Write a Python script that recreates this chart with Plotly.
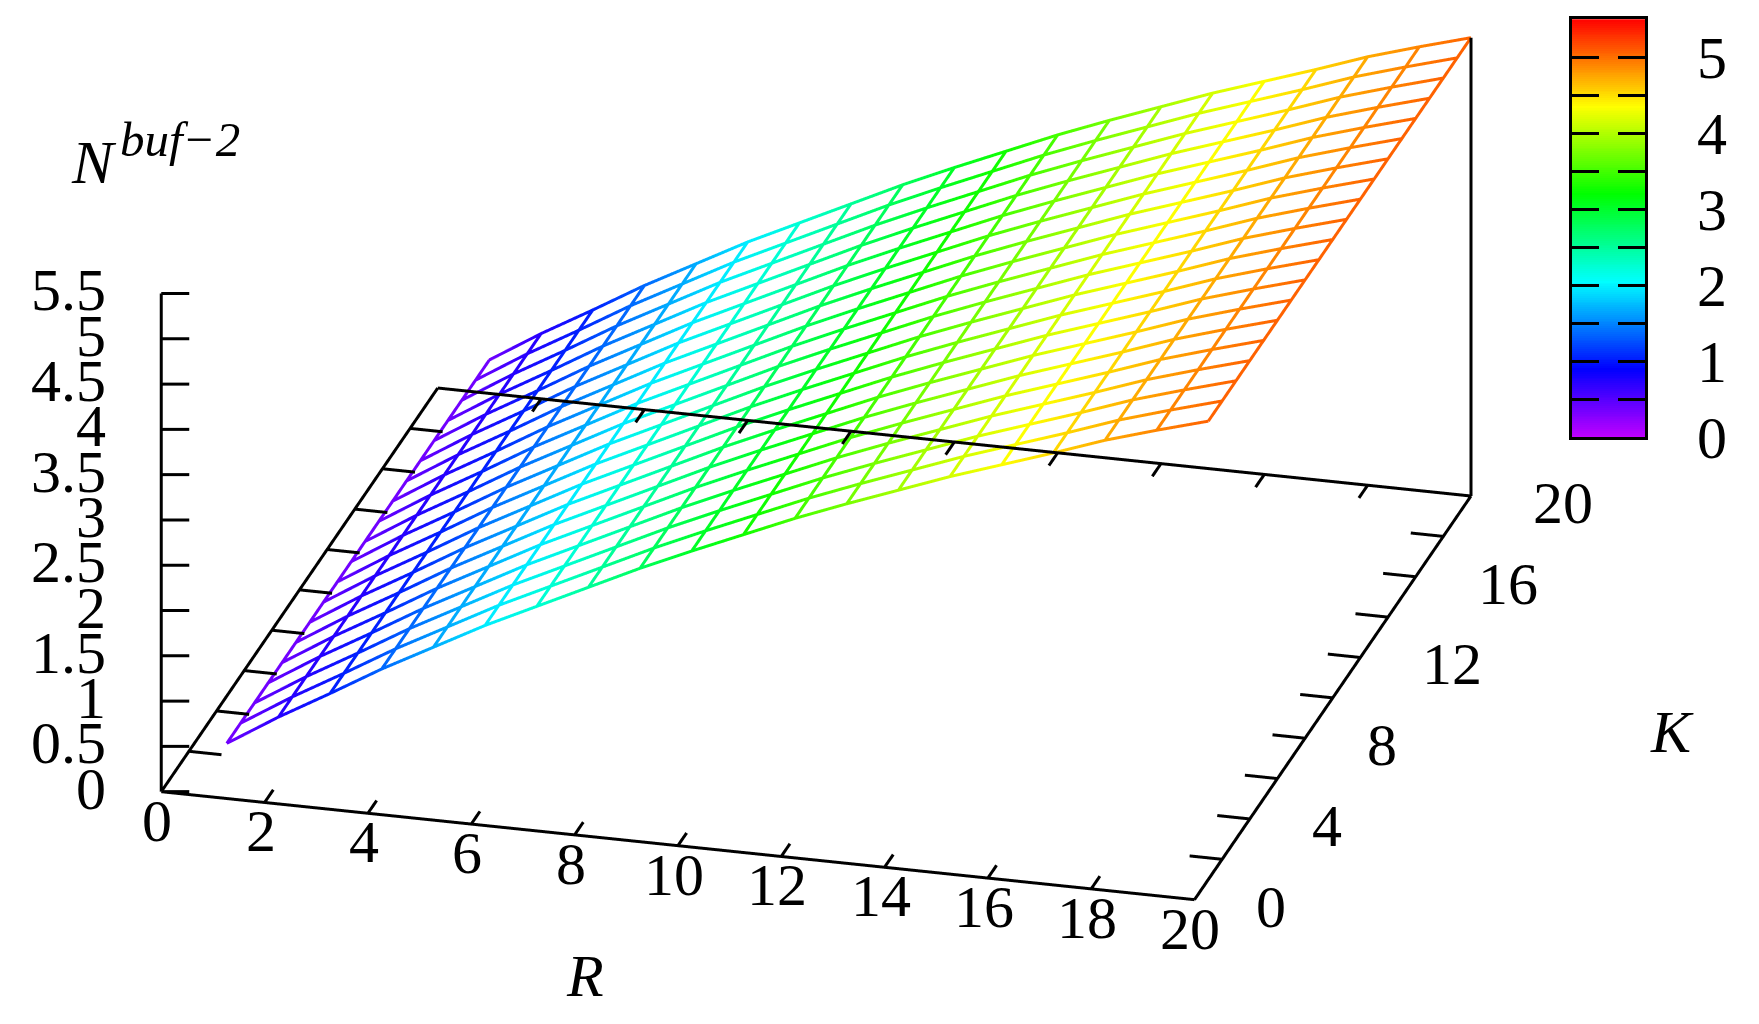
import numpy as np
import plotly.graph_objects as go

W, H = 1759, 1024
FONT = "Liberation Serif"

R_values = list(range(1, 21))
K_values = list(range(1, 21))
N_by_R = [0.37, 0.72, 1.04, 1.37, 1.67, 1.97, 2.24, 2.51, 2.78, 3.03,
          3.27, 3.51, 3.73, 3.94, 4.15, 4.34, 4.53, 4.73, 4.90, 5.06]
R_ticks = [0, 2, 4, 6, 8, 10, 12, 14, 16, 18, 20]
K_ticks = [0, 2, 4, 6, 8, 10, 12, 14, 16, 18, 20]
K_labels = [0, 4, 8, 12, 16, 20]
Z_ticks = [0, 0.5, 1, 1.5, 2, 2.5, 3, 3.5, 4, 4.5, 5, 5.5]
Z_labels = ["0", "0.5", "1", "1.5", "2", "2.5", "3", "3.5", "4", "4.5", "5", "5.5"]
bar_ticks = [0, 0.5, 1, 1.5, 2, 2.5, 3, 3.5, 4, 4.5, 5, 5.5]
bar_labels = ["0", "", "1", "", "2", "", "3", "", "4", "", "5", ""]

colorscale = [[0, "#c000ff"], [0.1636, "#0000ff"], [0.3727, "#00ffff"],
              [0.5818, "#00ff00"], [0.7909, "#ffff00"], [1, "#ff0000"]]
ZMAX = 5.5

fig = go.Figure()
line_w = 6

def wire(xs, ys, zs):
    fig.add_trace(go.Scatter3d(x=xs, y=ys, z=zs, mode="lines", scene="scene",
                               showlegend=False, hoverinfo="skip",
                               line=dict(color=zs, colorscale=colorscale, cmin=0, cmax=ZMAX,
                                         width=line_w, showscale=False)))

for k in K_values:
    wire(R_values, [k] * len(R_values), N_by_R)
for r, n in zip(R_values, N_by_R):
    wire([r] * len(K_values), K_values, [n] * len(K_values))

# frame and ticks, drawn in an overlaid scene so black stays on top of the wires
TK = 0.63
fx, fy, fz = [], [], []
def seg(a, b):
    fx.extend([a[0], b[0], None]); fy.extend([a[1], b[1], None]); fz.extend([a[2], b[2], None])

seg((0, 0, 0), (20, 0, 0)); seg((20, 0, 0), (20, 20, 0)); seg((0, 20, 0), (20, 20, 0))
seg((0, 0, 0), (0, 20, 0)); seg((0, 0, 0), (0, 0, 5.5)); seg((20, 20, 0), (20, 20, N_by_R[-1]))
for r in R_ticks:
    if r not in (0, 20):
        seg((r, 0, 0), (r, TK, 0))
    seg((r, 20, 0), (r, 20 - TK, 0))
for k in K_ticks:
    if k > 0:
        seg((0, k, 0), (TK, k, 0))
        seg((20, k, 0), (20 - TK, k, 0))
for z in Z_ticks:
    seg((0, 0, z), (0.506, 0.135, z))
fig.add_trace(go.Scatter3d(x=fx, y=fy, z=fz, mode="lines", scene="scene2", showlegend=False,
                           hoverinfo="skip", line=dict(color="black", width=6)))

# colour key
levels = np.linspace(0, ZMAX, 221)
fig.add_trace(go.Heatmap(z=[[v] for v in levels], y=levels, x=[0], xaxis="x", yaxis="y",
                         colorscale=colorscale, zmin=0, zmax=ZMAX, showscale=False, hoverinfo="skip"))

tf = dict(family=FONT, size=60, color="black")
ann3d = []
for r in R_ticks:
    ann3d.append(dict(x=r, y=0, z=0, text=str(r), showarrow=False, xanchor="center", yanchor="middle",
                      xshift=-4, yshift=-29, font=tf))
for k in K_labels:
    ann3d.append(dict(x=20, y=k, z=0, text=str(k), showarrow=False, xanchor="left", yanchor="middle",
                      xshift=60, yshift=-7, font=tf))
for z, t in zip(Z_ticks, Z_labels):
    ann3d.append(dict(x=0, y=0, z=z, text=t, showarrow=False, xanchor="right", yanchor="middle",
                      xshift=-53, yshift=3, font=tf))

# camera
EYE_DIST = 3.0
ASPECT = 2.089
R_PAD, Z_PAD = 1.0, 0.5   # the scene box is a little larger than the frame so edge lines are not clipped
d = np.array([0.2379, -0.8891, 0.3906])
S = 513.0
CENTER_PX = (63.5, -117.5)
r_vec = np.array([0.9659, 0.2584, 0.0]); u_vec = np.array([-0.101, 0.377, 0.9205])
c = (CENTER_PX[0] * r_vec + CENTER_PX[1] * u_vec) / S
eye = d * EYE_DIST + c
camera = dict(projection=dict(type="orthographic"), up=dict(x=0, y=0, z=1),
              eye=dict(x=eye[0], y=eye[1], z=eye[2]), center=dict(x=c[0], y=c[1], z=c[2]))

def axis3d(rng):
    return dict(range=rng, showgrid=False, zeroline=False, showline=False, showticklabels=False,
                showbackground=False, showspikes=False, ticks="", title=dict(text=""))

def scene(extra=None):
    ax = ASPECT * (20 + 2 * R_PAD) / 20
    az = 0.506 * ASPECT * (5.5 + 2 * Z_PAD) / 5.5
    s = dict(domain=dict(x=[0, 1], y=[0, 1]), aspectmode="manual",
             aspectratio=dict(x=ax, y=ax, z=az), camera=camera,
             bgcolor="rgba(0,0,0,0)", xaxis=axis3d([-R_PAD, 20 + R_PAD]), yaxis=axis3d([-R_PAD, 20 + R_PAD]),
             zaxis=axis3d([-Z_PAD, 5.5 + Z_PAD]))
    if extra:
        s.update(extra)
    return s

def px(x, y, text, size, anchor="left"):
    return dict(x=x / W, y=1 - y / H, xref="paper", yref="paper", text=text, showarrow=False,
                xanchor=anchor, yanchor="middle", font=dict(family=FONT, size=size, color="black"))

fig.update_layout(
    width=W, height=H, margin=dict(l=0, r=0, t=0, b=0, autoexpand=False), paper_bgcolor="white", plot_bgcolor="white",
    showlegend=False,
    scene=scene(), scene2=scene(dict(annotations=ann3d)),
    xaxis=dict(domain=[1571.5 / W, 1645 / W], visible=True, showticklabels=False, ticks="", showgrid=False,
               zeroline=False, showline=True, linewidth=3, linecolor="black", mirror=True, range=[-0.5, 0.5]),
    yaxis=dict(domain=[1 - 437.3 / H, 1 - 19.3 / H], side="right", range=[0, 5.5], tickmode="array",
               tickvals=bar_ticks, ticktext=bar_labels, ticks="inside", ticklen=27, tickwidth=3, tickcolor="black",
               showgrid=False, zeroline=False, showline=True, linewidth=3, linecolor="black", mirror="ticks",
               ticklabelstandoff=37, tickfont=tf),
    annotations=[
        px(585, 976, "<i>R</i>", 60, "center"),
        px(1672, 732, "<i>K</i>", 60, "center"),
        px(69, 162, "<i>N</i>", 62),
        px(118, 139, "<i>buf\u22122</i>", 49),
    ],
)

fig.write_html("out.html", config={"displayModeBar": False}, post_script="document.body.style.margin='0';")
